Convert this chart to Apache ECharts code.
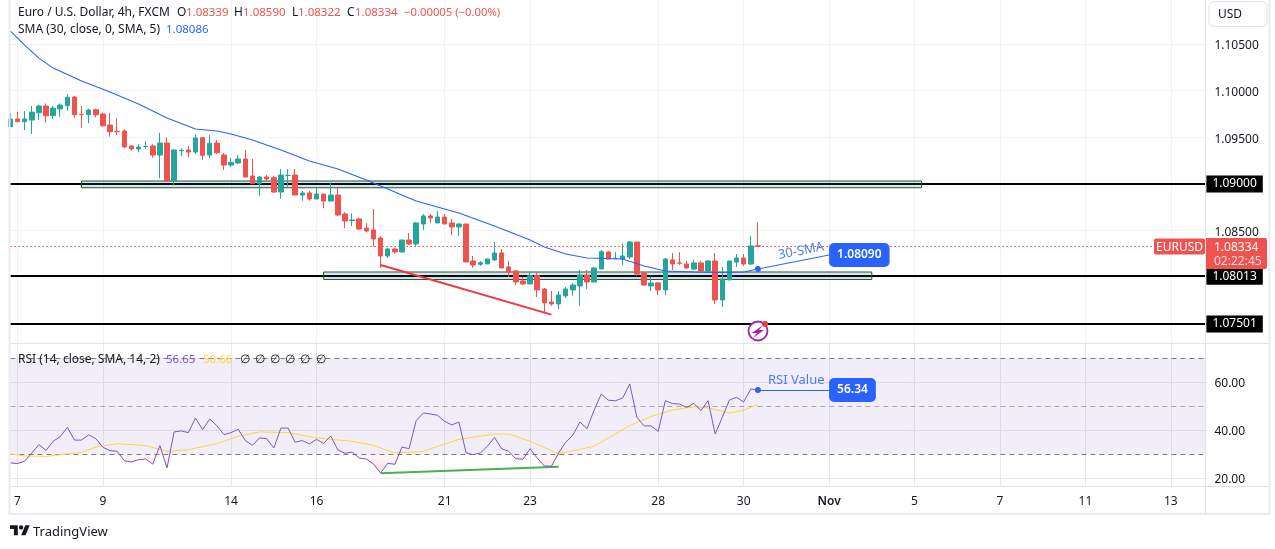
<!DOCTYPE html>
<html>
<head>
<meta charset="utf-8">
<title>EURUSD 4h</title>
<script src="https://cdn.jsdelivr.net/npm/echarts@6/dist/echarts.min.js"></script>
<style>
  html, body { margin: 0; padding: 0; background: #fff; }
  #chart { width: 1275px; height: 549px; }
</style>
</head>
<body>
<div id="chart"></div>
<script>
// time axis: 4h bars, day labels sit on these slots
const slotCount = 169;
const tickSlots = [1, 13, 31, 43, 61, 73, 91, 103, 115, 127, 139, 151, 163];
const tickLabels = ["7", "9", "14", "16", "21", "23", "28", "30", "Nov", "5", "7", "11", "13"];

// open, close, low, high
const candles = [
  [1.09613,1.09696,1.09613,1.09760],[1.09696,1.09667,1.09663,1.09774],[1.09667,1.09696,1.09578,1.09781],
  [1.09685,1.09770,1.09535,1.09835],[1.09763,1.09835,1.09685,1.09849],[1.09835,1.09731,1.09656,1.09863],
  [1.09731,1.09813,1.09696,1.09835],[1.09803,1.09845,1.09720,1.09863],[1.09838,1.09928,1.09784,1.09963],
  [1.09931,1.09742,1.09709,1.09942],[1.09746,1.09743,1.09602,1.09835],[1.09742,1.09792,1.09650,1.09806],
  [1.09795,1.09742,1.09714,1.09806],[1.09749,1.09624,1.09613,1.09767],[1.09631,1.09560,1.09506,1.09763],
  [1.09564,1.09560,1.09524,1.09706],[1.09567,1.09396,1.09385,1.09585],[1.09407,1.09375,1.09356,1.09417],
  [1.09375,1.09396,1.09339,1.09425],[1.09401,1.09403,1.09378,1.09460],[1.09407,1.09310,1.09281,1.09425],
  [1.09310,1.09439,1.09061,1.09549],[1.09439,1.09032,1.09021,1.09495],[1.09032,1.09364,1.08986,1.09371],
  [1.09358,1.09361,1.09300,1.09382],[1.09364,1.09342,1.09286,1.09407],[1.09342,1.09492,1.09321,1.09535],
  [1.09495,1.09307,1.09257,1.09500],[1.09310,1.09435,1.09278,1.09524],[1.09439,1.09335,1.09321,1.09471],
  [1.09310,1.09203,1.09150,1.09332],[1.09203,1.09232,1.09179,1.09281],[1.09225,1.09268,1.09214,1.09310],
  [1.09268,1.09075,1.09072,1.09364],[1.09086,1.09003,1.09003,1.09268],[1.09003,1.09075,1.08875,1.09086],
  [1.09075,1.09054,1.09035,1.09096],[1.09067,1.08914,1.08907,1.09086],[1.08914,1.09096,1.08843,1.09161],
  [1.09091,1.09093,1.08971,1.09161],[1.09096,1.08882,1.08882,1.09161],[1.08882,1.08904,1.08821,1.08925],
  [1.08904,1.08840,1.08821,1.08925],[1.08840,1.08893,1.08840,1.08965],[1.08893,1.08818,1.08740,1.08893],
  [1.08818,1.08882,1.08818,1.09014],[1.08882,1.08668,1.08658,1.08965],[1.08679,1.08604,1.08529,1.08700],
  [1.08609,1.08615,1.08551,1.08686],[1.08626,1.08519,1.08508,1.08644],[1.08529,1.08497,1.08483,1.08583],
  [1.08508,1.08412,1.08329,1.08733],[1.08422,1.08230,1.08101,1.08444],[1.08230,1.08305,1.08208,1.08318],
  [1.08305,1.08272,1.08251,1.08318],[1.08272,1.08401,1.08272,1.08401],[1.08401,1.08358,1.08347,1.08476],
  [1.08358,1.08583,1.08337,1.08593],[1.08572,1.08658,1.08508,1.08679],[1.08658,1.08636,1.08583,1.08679],
  [1.08583,1.08647,1.08583,1.08711],[1.08647,1.08572,1.08572,1.08679],[1.08583,1.08540,1.08454,1.08626],
  [1.08540,1.08572,1.08444,1.08583],[1.08572,1.08165,1.08165,1.08572],[1.08176,1.08133,1.08101,1.08230],
  [1.08141,1.08158,1.08123,1.08176],[1.08144,1.08197,1.08144,1.08201],[1.08187,1.08262,1.08176,1.08379],
  [1.08262,1.08101,1.08101,1.08305],[1.08112,1.08058,1.08005,1.08176],[1.08069,1.07951,1.07919,1.08080],
  [1.07962,1.07930,1.07919,1.08005],[1.07930,1.08019,1.07930,1.08051],[1.08019,1.07866,1.07791,1.08058],
  [1.07876,1.07727,1.07630,1.07887],[1.07737,1.07716,1.07695,1.07855],[1.07716,1.07812,1.07663,1.07855],
  [1.07802,1.07876,1.07780,1.07898],[1.07866,1.07919,1.07805,1.07941],[1.07909,1.08026,1.07695,1.08080],
  [1.08026,1.07951,1.07876,1.08080],[1.07951,1.08101,1.07951,1.08112],[1.08090,1.08276,1.08090,1.08294],
  [1.08272,1.08197,1.08197,1.08283],[1.08201,1.08205,1.08197,1.08272],[1.08197,1.08230,1.08133,1.08365],
  [1.08219,1.08379,1.08197,1.08390],[1.08379,1.08037,1.08016,1.08379],[1.08048,1.07919,1.07909,1.08058],
  [1.07909,1.07941,1.07855,1.08005],[1.07941,1.07866,1.07812,1.07951],[1.07866,1.08197,1.07812,1.08208],
  [1.08187,1.08144,1.08080,1.08262],[1.08155,1.08152,1.08133,1.08272],[1.08144,1.08101,1.08090,1.08176],
  [1.08090,1.08155,1.08080,1.08187],[1.08155,1.08069,1.08058,1.08176],[1.08069,1.08176,1.08058,1.08187],
  [1.08176,1.07759,1.07716,1.08262],[1.07759,1.07984,1.07684,1.08112],[1.07973,1.08176,1.07973,1.08176],
  [1.08165,1.08208,1.08112,1.08251],[1.08208,1.08144,1.08123,1.08251],[1.08144,1.08337,1.08133,1.08444],
  [1.08339,1.08334,1.08322,1.08590]
];

// as [slot, price]
const smaPoints = [
  [0,1.10637],[2,1.10487],[4,1.10348],[6,1.10241],[10,1.10102],[14,1.09984],[18,1.09856],[22,1.09706],
  [26,1.09589],[29,1.09567],[31,1.09535],[34,1.09471],[38,1.09364],[42,1.09246],[46,1.09161],[50,1.09043],
  [55,1.08882],[57,1.08818],[63,1.08690],[68,1.08551],[73,1.08401],[75,1.08326],[78,1.08251],[81,1.08208],
  [86,1.08197],[89,1.08123],[92,1.08069],[96,1.08058],[100,1.08053],[103,1.08058],[105,1.08090]
];

const rsiValues = [
  26.3,26,27,30.4,33.9,31.5,35.3,37.2,41.1,35.8,35.8,38,36.4,32.8,31.4,31.1,27.2,26.7,27.6,27.9,
  25.8,33.5,24.2,39.2,39.6,38.9,45,40.1,44.6,41.8,38.1,38.9,40.3,35.6,33.6,36.7,36.4,32.5,40.8,40.8,
  34.9,35.6,34.2,36.1,34.4,37.5,31.7,30.3,30.8,28.3,27.9,25.8,22.1,26.1,25.7,32.9,32.2,43.9,47.1,46.7,
  46.1,43.6,42.1,43.3,30.6,29.7,30.4,33.2,36.9,32.2,31.1,28,27.8,32.2,28.3,25,24.9,30.4,34.9,37.8,
  43.3,40.6,48.3,55,52.4,52.2,53.3,59.2,45.3,41.7,41.7,39.4,52.2,51,50.8,49.4,51.1,48.1,52.2,38.3,
  45.3,52.5,53.6,51.7,57.1,56.65
];

const rsiMaPoints = [
  [0,30],[2,29.2],[5,29],[10,30.7],[12,32.9],[15,34.3],[19,33.5],[22,31.1],[25,31.8],[29,34.3],[32,37.4],
  [35,39.2],[39,38.9],[43,36.7],[48,35.3],[51,33.6],[54,30.4],[58,31.1],[59,32.2],[63,36.1],[68,38.3],
  [70,38.3],[73,35.3],[77,30.1],[82,33.2],[87,41.9],[90,45.6],[93,48.3],[96,49.7],[98,49.2],[101,47.1],
  [103,48.2],[105,50.66]
];

// drawn levels and zones
const keyLevels = [1.09, 1.08013, 1.07501];
const levelLabels = ["1.09000", "1.08013", "1.07501"];
const lastClose = 1.08334;
const priceTicks = [1.105, 1.10, 1.095, 1.09, 1.085, 1.08, 1.075];
const rsiTicks = [60, 40, 20];
const rsiLevels = [70, 50, 30];
const zones = [
  { from: 10, to: 128, top: 1.09032, bottom: 1.08960 },
  { from: 44, to: 121, top: 1.08058, bottom: 1.07978 },
];

const font = '"Noto Sans", sans-serif';
const ink = "#131722";
const blue = "#2962ff";
const red = "#ef5350";

// header texts, [x, text, colour, size]
const headerRow = [
  [18, "Euro / U.S. Dollar, 4h, FXCM", ink, 12], [177, "O", ink, 12], [186, "1.08339", red, 11.5],
  [234, "H", ink, 12], [243, "1.08590", red, 11.5], [292, "L", ink, 12], [298, "1.08322", red, 11.5],
  [347, "C", ink, 12], [355, "1.08334", red, 11.5], [404, "−0.00005 (−0.00%)", red, 11.3],
];
const smaRow = [[18, "SMA (30, close, 0, SMA, 5)", ink, 12], [166, "1.08086", blue, 11.5]];
const rsiRow = [
  [18, "RSI (14, close, SMA, 14, 2)", ink, 12], [166, "56.65", "#7e57c2", 11.5], [203, "50.66", "#fdd835", 11.5],
  [240, "∅", ink, 12], [255, "∅", ink, 12], [270, "∅", ink, 12], [285, "∅", ink, 12], [300, "∅", ink, 12], [316, "∅", ink, 12],
];

const categories = new Array(slotCount).fill("");
tickSlots.forEach((s, i) => { categories[s] = tickLabels[i]; });
const onTick = (i) => tickSlots.includes(i);

function textRow(row, y) {
  return row.map(([x, text, fill, size]) => ({
    type: "text", x: x, y: y, z: 20, silent: true,
    style: { text: text, fill: fill, font: size + "px " + font, verticalAlign: "middle" },
  }));
}

const noLabel = { show: false };

// Noto Sans sits high in its line box, the top padding brings the digits down on the tick
const tickText = {
  t: { color: ink, fontSize: 12, fontFamily: font, padding: [4, 0, 0, 0] },
};

const chart = echarts.init(document.getElementById("chart"), null, { renderer: "canvas" });

chart.setOption({
  animation: false,
  backgroundColor: "#fff",
  grid: [
    { left: 10.4, top: 0, width: 1196, height: 343 },
    { left: 10.4, top: 344, width: 1196, height: 143 },
  ],
  xAxis: [
    {
      type: "category", gridIndex: 0, data: categories, boundaryGap: false,
      axisLine: { show: false }, axisTick: { show: false }, axisLabel: { show: false },
      splitLine: { show: true, interval: onTick, lineStyle: { color: "#f0f3fa" } },
    },
    {
      type: "category", gridIndex: 1, data: categories, boundaryGap: false,
      axisLine: { show: false }, axisTick: { show: false },
      axisLabel: {
        interval: onTick, margin: 9, color: ink, fontSize: 12, fontFamily: font,
        formatter: (v) => (v === "Nov" ? "{b|Nov}" : v),
        rich: { b: { fontWeight: 600, fontSize: 12, fontFamily: font, color: ink } },
      },
      splitLine: { show: true, interval: onTick, lineStyle: { color: "#e9e9f2" } },
    },
  ],
  yAxis: [
    {
      type: "value", gridIndex: 0, position: "right", min: 1.07298, max: 1.1097,
      axisLine: { show: false },
      axisTick: { show: false, customValues: priceTicks },
      axisLabel: {
        customValues: priceTicks, margin: 8, rich: tickText,
        formatter: (v) => "{t|" + v.toFixed(5) + "}",
      },
      splitLine: { show: true, lineStyle: { color: "#f0f3fa" } },
    },
    {
      type: "value", gridIndex: 1, position: "right", min: 16.25, max: 75.83,
      axisLine: { show: false },
      axisTick: { show: false, customValues: rsiTicks },
      axisLabel: {
        customValues: rsiTicks, margin: 8, rich: tickText,
        formatter: (v) => "{t|" + v.toFixed(2) + "}",
      },
      splitLine: { show: true, lineStyle: { color: "#e9e7f1" } },
    },
  ],
  series: [
    {
      type: "candlestick", name: "EURUSD", xAxisIndex: 0, yAxisIndex: 0, z: 3,
      data: candles, barWidth: 5,
      itemStyle: { color: "#26a69a", color0: red, borderColor: "#26a69a", borderColor0: red, borderWidth: 1 },
      markLine: {
        z: 1, silent: true, symbol: ["none", "none"], animation: false,
        data: keyLevels.map((level, i) => [
          {
            coord: [0, level],
            lineStyle: { color: "#000", width: 2, type: "solid" },
            label: {
              show: true, position: "end", distance: 0, formatter: levelLabels[i],
              backgroundColor: "#000", color: "#fff", fontSize: 12, fontFamily: font,
              padding: [4, 6, 0, 6], lineHeight: 13,
            },
          },
          { coord: [slotCount - 1, level] },
        ]).concat([
          [
            { coord: [0, lastClose], lineStyle: { color: "#f23645", width: 1, type: [1.5, 2.5] }, label: noLabel },
            { coord: [slotCount - 1, lastClose] },
          ],
        ]),
      },
      markArea: {
        z: 2, silent: true,
        data: zones.map((z) => [
          {
            coord: [z.from, z.top],
            itemStyle: { color: "rgba(30,80,170,0.16)", borderColor: "#1b5e20", borderWidth: 1 },
          },
          { coord: [z.to, z.bottom] },
        ]),
      },
    },
    {
      type: "line", name: "SMA", xAxisIndex: 0, yAxisIndex: 0, z: 4,
      data: smaPoints, symbol: "none", lineStyle: { color: blue, width: 1.1 },
      markLine: {
        z: 5, silent: true, symbol: ["none", "none"], animation: false,
        data: [
          [
            { coord: [52, 1.08133], lineStyle: { color: "#f23645", width: 2, type: "solid" }, label: noLabel },
            { coord: [76, 1.07602] },
          ],
          [
            {
              coord: [105, 1.08090], symbol: "circle", symbolSize: 6,
              lineStyle: { color: blue, width: 1, type: "solid" },
              label: {
                show: true, position: "end", distance: 0, formatter: "1.08090",
                backgroundColor: blue, color: "#fff", fontSize: 12, fontWeight: 600, fontFamily: font,
                padding: [5, 8], lineHeight: 14, borderRadius: 5,
              },
            },
            { coord: [115, 1.08240], symbol: "none" },
          ],
        ],
      },
    },
    {
      // pink area where RSI dips under 30
      type: "line", xAxisIndex: 1, yAxisIndex: 1, z: 2, silent: true,
      data: rsiValues.map((v) => Math.min(v, 30)), symbol: "none",
      lineStyle: { width: 0 },
      areaStyle: {
        origin: 30,
        color: new echarts.graphic.LinearGradient(0, 0, 0, 1, [
          { offset: 0, color: "rgba(242,54,69,0.04)" },
          { offset: 1, color: "rgba(242,54,69,0.25)" },
        ]),
      },
    },
    {
      type: "line", name: "RSI", xAxisIndex: 1, yAxisIndex: 1, z: 4,
      data: rsiValues, symbol: "none", lineStyle: { color: "#7e57c2", width: 1 },
      markArea: {
        z: 1, silent: true,
        data: [[
          { coord: [0, rsiLevels[0]], itemStyle: { color: "rgba(126,87,194,0.1)" } },
          { coord: [slotCount - 1, rsiLevels[2]] },
        ]],
      },
      markLine: {
        z: 3, silent: true, symbol: ["none", "none"], animation: false,
        data: rsiLevels.map((level) => [
          {
            coord: [0, level], label: noLabel,
            lineStyle: { color: level === 50 ? "rgba(120,123,134,0.6)" : "#787b86", width: 1, type: [5, 4] },
          },
          { coord: [slotCount - 1, level] },
        ]).concat([
          [
            { coord: [52, 21.96], lineStyle: { color: "#4caf50", width: 2, type: "solid" }, label: noLabel },
            { coord: [77, 24.7] },
          ],
          [
            {
              coord: [105, 56.65], symbol: "circle", symbolSize: 6,
              lineStyle: { color: blue, width: 1, type: "solid" },
              label: {
                show: true, position: "end", distance: 0, formatter: "56.34",
                backgroundColor: blue, color: "#fff", fontSize: 12, fontWeight: 600, fontFamily: font,
                padding: [5, 8], lineHeight: 14, borderRadius: 5,
              },
            },
            { coord: [115, 56.65], symbol: "none" },
          ],
        ]),
      },
    },
    {
      type: "line", name: "RSI MA", xAxisIndex: 1, yAxisIndex: 1, z: 3,
      data: rsiMaPoints, symbol: "none", lineStyle: { color: "#fdd835", width: 1 },
    },
  ],
  graphic: [
    // frame and pane dividers
    { type: "rect", z: 10, silent: true, shape: { x: 9.5, y: -3, width: 1260, height: 517 }, style: { fill: "none", stroke: "#e9ebf1", lineWidth: 2 } },
    { type: "line", z: 10, silent: true, shape: { x1: 1205.5, y1: 0, x2: 1205.5, y2: 514 }, style: { stroke: "#e0e3eb", lineWidth: 1 } },
    { type: "line", z: 10, silent: true, shape: { x1: 10, y1: 343.5, x2: 1270, y2: 343.5 }, style: { stroke: "#e0e3eb", lineWidth: 1 } },
    { type: "line", z: 10, silent: true, shape: { x1: 10, y1: 486.5, x2: 1270, y2: 486.5 }, style: { stroke: "#e0e3eb", lineWidth: 1 } },
    // currency button
    { type: "rect", z: 20, silent: true, shape: { x: 1209, y: 1.5, width: 58, height: 25, r: 5 }, style: { fill: "#fff", stroke: "#e0e3eb" } },
    { type: "text", x: 1218, y: 15, z: 21, silent: true, style: { text: "USD", fill: ink, font: "12px " + font, verticalAlign: "middle" } },
    // last price tags
    { type: "rect", z: 20, silent: true, shape: { x: 1154, y: 238.5, width: 51, height: 16, r: 2 }, style: { fill: red } },
    { type: "text", x: 1179.5, y: 247.5, z: 21, silent: true, style: { text: "EURUSD", fill: "#fff", font: "12px " + font, align: "center", verticalAlign: "middle" } },
    { type: "rect", z: 20, silent: true, shape: { x: 1206, y: 238, width: 61, height: 31, r: [0, 2, 2, 0] }, style: { fill: red } },
    { type: "text", x: 1214, y: 248, z: 21, silent: true, style: { text: "1.08334", fill: "#fff", font: "12px " + font, verticalAlign: "middle" } },
    { type: "text", x: 1214, y: 262, z: 21, silent: true, style: { text: "02:22:45", fill: "rgba(255,255,255,0.8)", font: "12px " + font, verticalAlign: "middle" } },
    // annotation captions
    { type: "text", x: 801, y: 251, rotation: 0.19, z: 21, silent: true, style: { text: "30-SMA", fill: "#4c7df5", font: "13px " + font, align: "center", verticalAlign: "middle" } },
    { type: "text", x: 768, y: 380, z: 21, silent: true, style: { text: "RSI Value", fill: "#4c7df5", font: "13px " + font, verticalAlign: "middle" } },
    // news badge
    { type: "circle", z: 20, silent: true, shape: { cx: 758, cy: 331, r: 9.5 }, style: { fill: "#fff", stroke: "#9c27b0", lineWidth: 1.8 } },
    { type: "polygon", z: 21, silent: true, shape: { points: [[763, 325], [752, 333], [757, 333], [753, 338], [764, 330], [759, 330]] }, style: { fill: "#9c27b0" } },
    { type: "circle", z: 22, silent: true, shape: { cx: 765, cy: 324, r: 3 }, style: { fill: "#f23645" } },
    // footer logo
    { type: "polygon", z: 20, silent: true, shape: { points: [[10, 525.2], [17.8, 525.2], [17.8, 535.2], [13.9, 535.2], [13.9, 529.1], [10, 529.1]] }, style: { fill: ink } },
    { type: "polygon", z: 20, silent: true, shape: { points: [[21.1, 535.2], [25.3, 525.2], [29.7, 525.2], [25.5, 535.2]] }, style: { fill: ink } },
    { type: "circle", z: 20, silent: true, shape: { cx: 21.1, cy: 527.4, r: 2.2 }, style: { fill: ink } },
    { type: "text", x: 33, y: 532, z: 20, silent: true, style: { text: "TradingView", fill: ink, font: "13px " + font, verticalAlign: "middle" } },
  ].concat(textRow(headerRow, 13), textRow(smaRow, 30), textRow(rsiRow, 360)),
});
</script>
</body>
</html>
